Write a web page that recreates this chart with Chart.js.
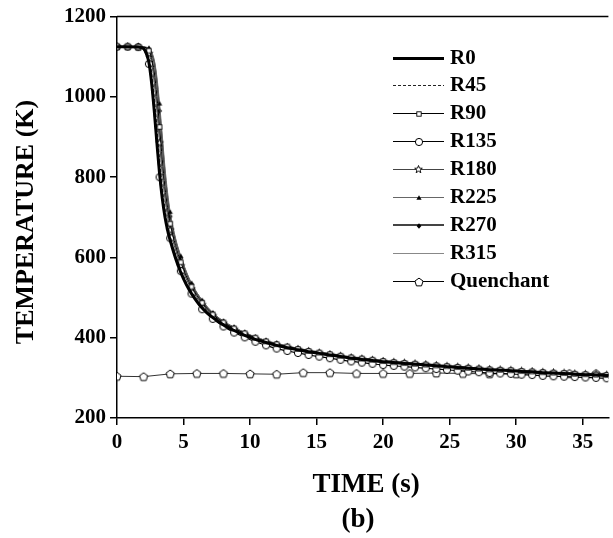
<!DOCTYPE html>
<html>
<head>
<meta charset="utf-8">
<script src="https://cdn.jsdelivr.net/npm/chart.js@4/dist/chart.umd.min.js"></script>
<style>
  html, body { margin: 0; padding: 0; background: #fff; }
  #wrap { width: 613px; height: 538px; position: relative; }
</style>
</head>
<body>
<div id="wrap"><canvas id="c" width="613" height="538"></canvas></div>
<script>
// ---- data ----
const time = [0,0.8,1.6,2.0,2.2,2.4,2.6,2.8,3.0,3.2,3.4,3.6,3.8,4.0,4.4,4.8,5.2,5.6,
  6.4,7.2,8.0,8.8,9.6,10.4,11.2,12.0,12.8,13.6,14.4,15.2,16.0,16.8,17.6,18.4,19.2,20.0,
  20.8,21.6,22.4,23.2,24.0,24.8,25.6,26.4,27.2,28.0,28.8,29.6,30.4,31.2,32.0,32.8,33.6,
  34.4,35.2,36.0,36.8,37.6];

const R0 = [1125,1125,1124,1120,1108,1085,1035,965,885,808,748,702,668,642,598,562,533,510,
  474,450,432,418,406,396,388,381,375,370,365,361,357,353,349,346,343,340,338,336,334,332,
  330,328,326,324,322,320,319,318,316,315,313,312,311,309,308,307,306,305];
const R45 = [1125,1125,1124,1122,1115,1098,1062,1001,925,845,776,724,684,654,608,570,540,515,
  478,453,434,420,407,397,389,382,376,371,366,362,358,354,350,347,344,341,339,337,335,333,
  331,329,327,325,323,321,320,319,317,316,314,313,312,310,309,308,307,306];
const R90 = [1125,1125,1124,1124,1122,1115,1098,1062,1001,925,845,776,724,684,630,588,554,527,
  487,458,438,423,411,400,391,384,378,372,367,363,359,355,351,348,345,342,339,337,335,333,
  331,329,327,325,323,321,320,319,317,316,314,313,312,310,309,308,307,306];
const R135 = [1125,1125,1124,1120,1106,1082,1030,958,878,800,745,702,670,648,604,566,535,510,
  471,447,428,413,401,390,381,373,367,362,357,353,349,345,341,338,335,332,330,328,326,324,
  322,320,318,316,314,312,311,310,308,307,305,304,303,302,301,300,299,298];
const R180 = [1125,1125,1124,1123,1120,1108,1085,1035,965,885,808,748,702,668,619,579,547,521,
  482,455,436,421,409,397,389,382,376,371,366,362,358,354,350,347,344,341,339,337,335,333,
  331,329,327,325,323,321,320,319,317,316,314,313,312,310,309,308,307,306];
const R225 = [1125,1125,1124,1124,1123,1121,1112,1092,1049,983,905,826,762,713,648,603,566,536,
  493,462,441,426,413,402,393,386,379,373,368,364,360,356,352,349,346,343,340,338,336,334,
  332,330,328,326,324,322,320,319,317,316,314,313,312,311,310,309,308,307];
const R270 = [1125,1125,1124,1124,1123,1120,1108,1085,1035,965,885,808,748,702,642,598,562,533,
  491,461,440,425,412,401,392,385,379,373,368,364,360,356,352,349,346,343,340,338,336,334,
  332,330,328,326,324,322,320,319,317,316,314,313,312,311,310,309,308,307];
const R315 = [1125,1125,1124,1123,1121,1112,1092,1049,983,905,826,762,713,676,624,583,551,524,
  484,456,437,422,410,400,391,384,378,372,367,363,359,355,351,348,345,342,339,337,335,333,
  331,329,327,325,323,321,320,319,317,316,314,313,312,310,309,308,307,306];

const quenchTime = [0,2,4,6,8,10,12,14,16,18,20,22,24,26,28,30,32,34,36,38];
const quench = [304,303,310,311,311,310,309,313,313,311,311,311,312,311,310,310,311,311,311,311];

const seriesNames = ['R0','R45','R90','R135','R180','R225','R270','R315','Quenchant'];
const xTicks = [0,5,10,15,20,25,30,35];
const yTicks = [200,400,600,800,1000,1200];

// ---- marker images ----
function mk(size, fn) {
  const c = document.createElement('canvas');
  c.width = size; c.height = size;
  const g = c.getContext('2d');
  fn(g, size / 2);
  return c;
}
function poly(g, cx, cy, pts) {
  g.beginPath();
  pts.forEach((p, i) => i ? g.lineTo(cx + p[0], cy + p[1]) : g.moveTo(cx + p[0], cy + p[1]));
  g.closePath();
}
const mCircle = mk(10, (g, c) => { g.beginPath(); g.arc(c, c, 3.6, 0, Math.PI * 2);
  g.fillStyle = '#fff'; g.fill(); g.lineWidth = 1; g.strokeStyle = '#000'; g.stroke(); });
const mSquare = mk(8, (g, c) => { g.fillStyle = '#fff'; g.fillRect(c - 2.2, c - 2.2, 4.4, 4.4);
  g.lineWidth = 0.9; g.strokeStyle = '#000'; g.strokeRect(c - 2.2, c - 2.2, 4.4, 4.4); });
const mStar = mk(11, (g, c) => {
  const pts = [];
  for (let k = 0; k < 10; k++) {
    const r = k % 2 ? 1.7 : 4.0;
    const a = -Math.PI / 2 + k * Math.PI / 5;
    pts.push([r * Math.cos(a), r * Math.sin(a)]);
  }
  poly(g, c, c, pts); g.fillStyle = '#fff'; g.fill(); g.lineWidth = 0.9; g.strokeStyle = '#000'; g.stroke();
});
const mTri = mk(8, (g, c) => { poly(g, c, c, [[0, -2.8], [2.6, 1.8], [-2.6, 1.8]]); g.fillStyle = '#000'; g.fill(); });
const mDia = mk(8, (g, c) => { poly(g, c, c, [[0, -2.7], [2.4, 0], [0, 2.7], [-2.4, 0]]); g.fillStyle = '#000'; g.fill(); });
const mPent = mk(12, (g, c) => {
  const pts = [];
  for (let k = 0; k < 5; k++) {
    const a = -Math.PI / 2 + k * 2 * Math.PI / 5;
    pts.push([4.3 * Math.cos(a), 4.3 * Math.sin(a) + 0.4]);
  }
  poly(g, c, c, pts); g.fillStyle = '#fff'; g.fill(); g.lineWidth = 1; g.strokeStyle = '#000'; g.stroke();
});

function isMarkerTime(t) { const q = t / 0.8; return Math.abs(q - Math.round(q)) < 1e-6; }
const markerRadius = (ctx) => {
  const d = ctx.dataset.data[ctx.dataIndex];
  return d && isMarkerTime(d.x) ? 3 : 0;
};

function pts(xs, ys) { return xs.map((x, i) => ({ x: x, y: ys[i] })); }

const styles = [
  { color: '#000', width: 3, dash: [], marker: null },
  { color: '#222', width: 1, dash: [3, 2], marker: null },
  { color: '#000', width: 1, dash: [], marker: mSquare },
  { color: '#000', width: 1.2, dash: [], marker: mCircle },
  { color: '#444', width: 1, dash: [], marker: mStar },
  { color: '#666', width: 1, dash: [], marker: mTri },
  { color: '#444', width: 1.6, dash: [], marker: mDia },
  { color: '#888', width: 1, dash: [], marker: null },
  { color: '#000', width: 1, dash: [], marker: mPent }
];
const seriesData = [R0, R45, R90, R135, R180, R225, R270, R315];

const datasets = seriesData.map((vals, i) => ({
  label: seriesNames[i],
  data: pts(time, vals),
  borderColor: styles[i].color,
  borderWidth: styles[i].width,
  borderDash: styles[i].dash,
  pointStyle: styles[i].marker || 'circle',
  pointRadius: styles[i].marker ? markerRadius : 0,
  pointHoverRadius: 0,
  fill: false,
  cubicInterpolationMode: 'monotone'
}));
datasets.push({
  label: seriesNames[8],
  data: pts(quenchTime, quench),
  borderColor: '#333',
  borderWidth: 1,
  pointStyle: mPent,
  pointRadius: 3,
  pointHoverRadius: 0,
  fill: false,
  tension: 0
});

const FONT = '"Liberation Serif", "Times New Roman", serif';

const decor = {
  id: 'decor',
  afterDraw(chart) {
    const ctx = chart.ctx;
    const a = chart.chartArea;
    ctx.save();
    // top frame line
    ctx.strokeStyle = '#000'; ctx.lineWidth = 1.5;
    ctx.beginPath(); ctx.moveTo(a.left, a.top); ctx.lineTo(a.right, a.top); ctx.stroke();
    // axis titles
    ctx.fillStyle = '#000';
    ctx.textAlign = 'center'; ctx.textBaseline = 'middle';
    ctx.font = 'bold 27px ' + FONT;
    ctx.fillText('TIME (s)', 366, 485);
    ctx.fillText('(b)', 358, 520);
    ctx.save();
    ctx.translate(26, 222); ctx.rotate(-Math.PI / 2);
    ctx.font = 'bold 26px ' + FONT;
    ctx.fillText('TEMPERATURE (K)', 0, 0);
    ctx.restore();
    // legend
    const x0 = 393, x1 = 444, ys = [58, 85, 113, 141, 169, 197, 225, 253, 281];
    ctx.font = 'bold 21px ' + FONT;
    ctx.textAlign = 'left';
    seriesNames.forEach((name, i) => {
      const s = styles[i];
      const y = ys[i] + (Math.round(s.width) % 2 ? 0.5 : 0);
      ctx.save();
      ctx.strokeStyle = s.color; ctx.lineWidth = Math.max(1, Math.round(s.width)); ctx.setLineDash(s.dash);
      ctx.beginPath(); ctx.moveTo(x0, y); ctx.lineTo(x1, y); ctx.stroke();
      ctx.restore();
      if (s.marker) {
        const m = s.marker;
        ctx.drawImage(m, Math.round((x0 + x1) / 2 - m.width / 2), Math.round(ys[i] - m.height / 2 + 0.5));
      }
      ctx.fillStyle = '#000';
      ctx.fillText(name, 450, ys[i] + 1);
    });
    ctx.restore();
  }
};

const tickFont = { family: FONT, size: 21, weight: 'bold' };

new Chart(document.getElementById('c'), {
  type: 'line',
  data: { datasets: datasets },
  options: {
    responsive: false,
    animation: false,
    events: [],
    layout: { padding: { top: 16, left: 0, right: 0, bottom: 0 } },
    plugins: { legend: { display: false }, tooltip: { enabled: false }, title: { display: false } },
    scales: {
      x: {
        type: 'linear', min: 0, max: 36.93,
        afterBuildTicks: (s) => { s.ticks = xTicks.map(v => ({ value: v })); },
        afterFit: (s) => { s.height = 120; },
        ticks: { color: '#000', font: tickFont, padding: 5, maxRotation: 0, autoSkip: false,
                 callback: (v) => String(v) },
        grid: { drawOnChartArea: false, drawTicks: true, tickLength: 7, color: '#000', lineWidth: 1.5 },
        border: { display: true, color: '#000', width: 1.5 }
      },
      y: {
        type: 'linear', min: 200, max: 1200,
        afterBuildTicks: (s) => { s.ticks = yTicks.map(v => ({ value: v })); },
        afterFit: (s) => { s.width = 117; },
        ticks: { color: '#000', font: tickFont, padding: 4, callback: (v) => String(v) },
        grid: { drawOnChartArea: false, drawTicks: true, tickLength: 7, color: '#000', lineWidth: 1.5 },
        border: { display: true, color: '#000', width: 1.5 }
      }
    }
  },
  plugins: [decor]
});
</script>
</body>
</html>
